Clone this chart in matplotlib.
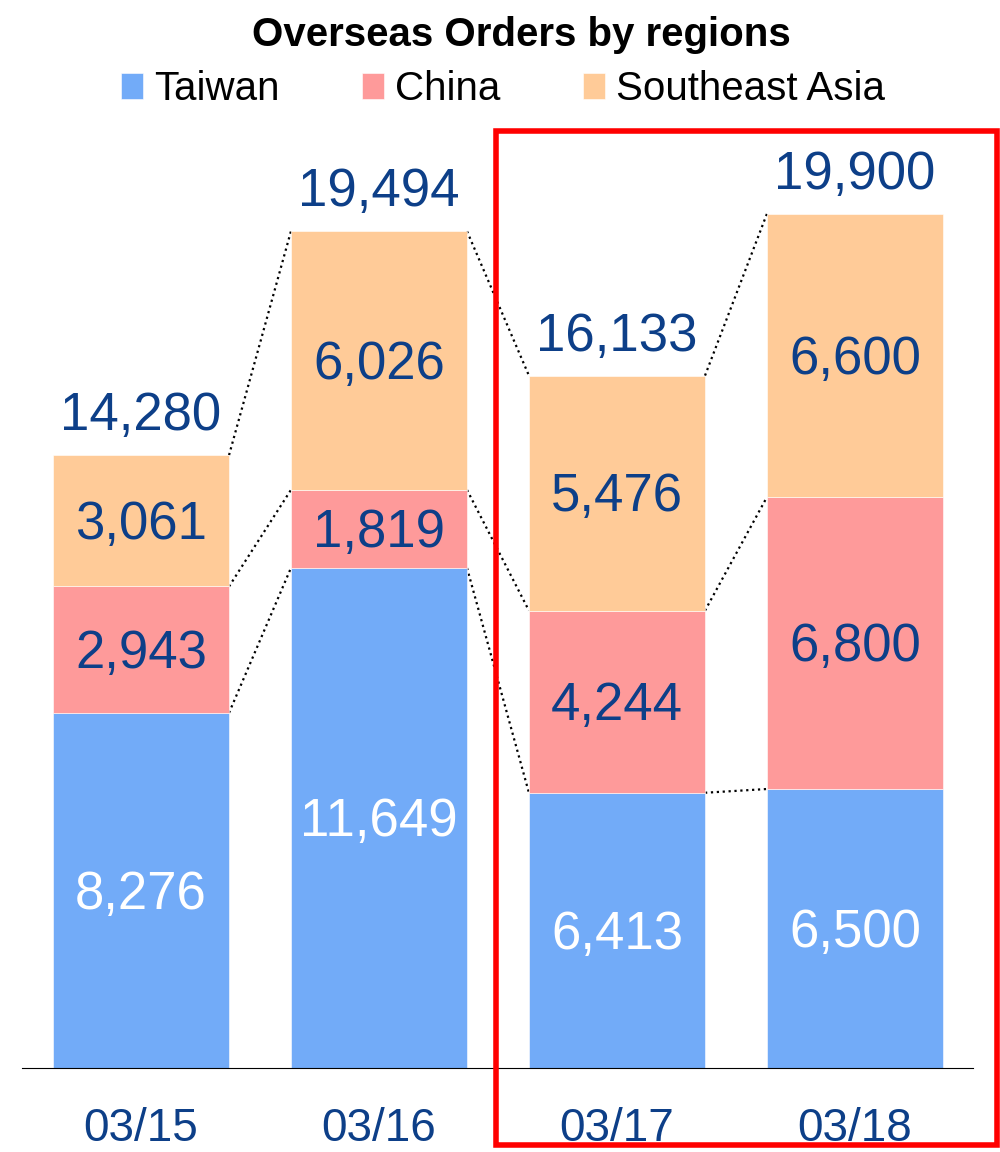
import matplotlib.pyplot as plt
from matplotlib.patches import Rectangle

plt.rcParams['font.family'] = ['Liberation Sans', 'DejaVu Sans']

dates = ['03/15', '03/16', '03/17', '03/18']
taiwan = [8276, 11649, 6413, 6500]
china = [2943, 1819, 4244, 6800]
se_asia = [3061, 6026, 5476, 6600]
totals = [14280, 19494, 16133, 19900]

series = [('Taiwan', taiwan, '#72abf8', 'white'),
          ('China', china, '#fe9a9a', '#0d3f88'),
          ('Southeast Asia', se_asia, '#ffcb98', '#0d3f88')]

TEXT = '#0d3f88'
W = 0.74

fig = plt.figure(figsize=(10, 11.52), dpi=100)
ax = fig.add_axes([0.022, 1 - 1068 / 1152, 0.951, 968 / 1152])

x = list(range(len(dates)))
bottom = [0] * len(dates)
tops = []
for name, vals, color, tcolor in series:
    ax.bar(x, vals, W, bottom=bottom, color=color, label=name,
           edgecolor='white', linewidth=0.4, zorder=2)
    for i, v in enumerate(vals):
        ax.annotate(f'{v:,}', (x[i], bottom[i] + v / 2), xytext=(0, -3),
                    textcoords='offset points', ha='center', va='center',
                    fontsize=38, color=tcolor, zorder=3)
    bottom = [b + v for b, v in zip(bottom, vals)]
    tops.append(list(bottom))

# dotted connectors between neighbouring bars
for level in tops:
    for i in range(len(x) - 1):
        ax.plot([x[i] + W / 2, x[i + 1] - W / 2], [level[i], level[i + 1]],
                color='black', linestyle=':', linewidth=1.6, zorder=1)

for i, t in enumerate(totals):
    ax.annotate(f'{t:,}', (x[i], t), xytext=(0, 28), textcoords='offset points',
                ha='center', va='center', fontsize=38, color=TEXT)

ax.set_xlim(-0.5, 3.496)
ax.set_ylim(0, 22553)
ax.set_xticks(x)
ax.set_xticklabels(dates, fontsize=33, color=TEXT)
ax.tick_params(axis='x', length=0, pad=28)
ax.set_yticks([])
for s in ['top', 'left', 'right']:
    ax.spines[s].set_visible(False)
ax.spines['bottom'].set_linewidth(0.8)

fig.text(0.521, 1 - 35 / 1152, 'Overseas Orders by regions', ha='center', va='center',
         fontsize=29, fontweight='bold', color='black')

handles, labels = ax.get_legend_handles_labels()
fig.legend(handles, labels, loc='center', bbox_to_anchor=(0.503, 1 - 89 / 1152),
           ncol=3, frameon=False, fontsize=29, handlelength=0.55, handleheight=0.6,
           handletextpad=0.27, columnspacing=2.05, borderpad=0)

fig.patches.append(Rectangle((496 / 1000, 1 - 1145 / 1152), 501 / 1000, 1014 / 1152,
                             transform=fig.transFigure, fill=False,
                             edgecolor='#ff0000', linewidth=4, zorder=5))

fig.savefig('out.png', dpi=100)
